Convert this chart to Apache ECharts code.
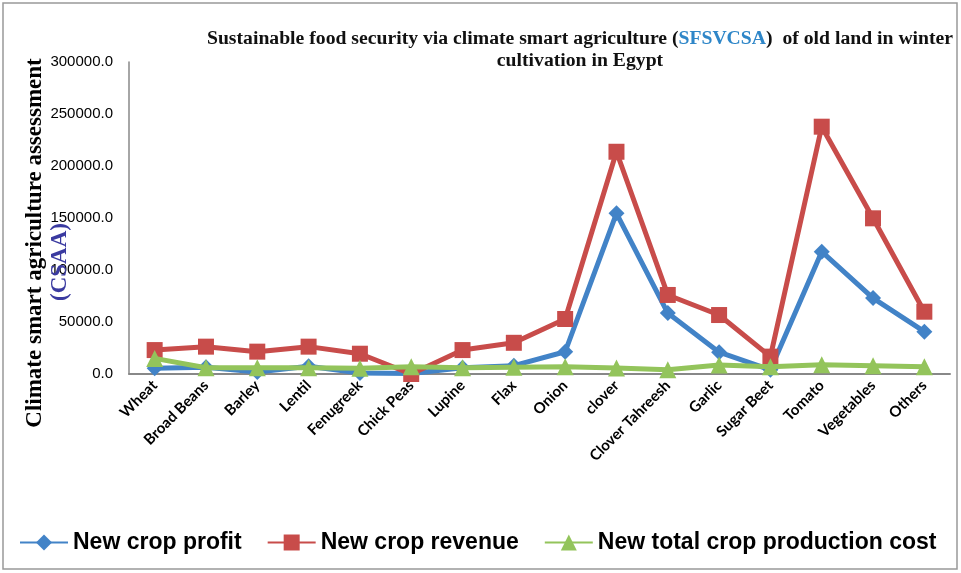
<!DOCTYPE html>
<html>
<head>
<meta charset="utf-8">
<script src="https://cdn.jsdelivr.net/npm/echarts@6/dist/echarts.min.js"></script>
<style>
  html, body { margin: 0; padding: 0; background: #fff; }
  #chart { width: 961px; height: 573px; }
</style>
</head>
<body>
<div id="chart"></div>
<script>
// categories on x axis
var crops = ['Wheat', 'Broad Beans', 'Barley', 'Lentil', 'Fenugreek', 'Chick Peas', 'Lupine', 'Flax',
  'Onion', 'clover', 'Clover Tahreesh', 'Garlic', 'Sugar Beet', 'Tomato', 'Vegetables', 'Others']

// values
var profit = [5500, 6500, 2000, 7500, 1000, 500, 6000, 8000,
  21400, 154500, 58600, 21000, 4000, 117600, 73000, 40700]
var revenue = [23000, 26300, 21500, 26300, 19500, 0, 23000, 30000,
  52900, 213700, 76000, 56700, 16700, 237800, 149700, 59900]
var cost = [15000, 6000, 6000, 6000, 5500, 7000, 6000, 6500,
  7000, 5800, 4000, 8700, 7000, 9000, 8000, 7000]

var yTicks = { min: 0, max: 300000, interval: 50000 }

var chart = echarts.init(document.getElementById('chart'))

var option = {
  animation: false,
  backgroundColor: '#fff',
  title: {
    text: 'Sustainable food security via climate smart agriculture ({b|SFSVCSA})  of old land in winter\ncultivation in Egypt',
    left: 575,
    top: 23,
    textAlign: 'center',
    textStyle: {
      fontFamily: 'Liberation Serif',
      fontWeight: 'bold',
      fontSize: 19.7,
      color: '#111',
      lineHeight: 22,
      rich: {
        b: { color: '#2e86c8', fontFamily: 'Liberation Serif', fontWeight: 'bold', fontSize: 19.7 }
      }
    }
  },
  legend: {
    bottom: 14,
    left: 14,
    itemWidth: 48,
    itemHeight: 20,
    itemGap: 25,
    textStyle: { fontFamily: 'Liberation Sans', fontWeight: 'bold', fontSize: 23, color: '#000' },
    data: ['New crop profit', 'New crop revenue', 'New total crop production cost']
  },
  grid: { left: 129, right: 11, top: 62, bottom: 199 },
  xAxis: {
    type: 'category',
    data: crops,
    boundaryGap: true,
    axisLine: { lineStyle: { color: '#888', width: 2 } },
    axisTick: { show: false },
    axisLabel: {
      interval: 0,
      rotate: 45,
      margin: 9,
      fontFamily: 'Lato',
      fontWeight: 'bold',
      fontSize: 15,
      color: '#000'
    }
  },
  yAxis: {
    type: 'value',
    min: yTicks.min,
    max: yTicks.max,
    interval: yTicks.interval,
    axisLine: { show: true, lineStyle: { color: '#888', width: 1.5 } },
    axisTick: { show: false },
    splitLine: { show: false },
    axisLabel: {
      margin: 16,
      fontFamily: 'Liberation Sans',
      fontSize: 15,
      color: '#000',
      formatter: function (v) { return v.toFixed(1) }
    }
  },
  graphic: [
    {
      type: 'rect',
      shape: { x: 3, y: 3, width: 954, height: 566 },
      style: { fill: 'none', stroke: '#999', lineWidth: 1.5 },
      silent: true
    },
    {
      type: 'text',
      x: 35,
      y: 243,
      rotation: Math.PI / 2,
      style: {
        text: 'Climate smart agriculture assessment',
        fontFamily: 'Liberation Serif',
        fontWeight: 'bold',
        fontSize: 23,
        fill: '#000',
        align: 'center',
        verticalAlign: 'middle'
      }
    },
    {
      type: 'text',
      x: 60,
      y: 262,
      rotation: Math.PI / 2,
      z: 10,
      style: {
        text: '(CSAA)',
        fontFamily: 'Liberation Serif',
        fontWeight: 'bold',
        fontSize: 23,
        fill: '#3a3aa0',
        align: 'center',
        verticalAlign: 'middle'
      }
    }
  ],
  series: [
    {
      name: 'New crop profit',
      type: 'line',
      data: profit,
      symbol: 'diamond',
      symbolSize: 16,
      color: '#4283c7',
      lineStyle: { width: 5 },
      z: 2
    },
    {
      name: 'New crop revenue',
      type: 'line',
      data: revenue,
      symbol: 'rect',
      symbolSize: 16,
      color: '#c84c4a',
      lineStyle: { width: 5 },
      z: 3
    },
    {
      name: 'New total crop production cost',
      type: 'line',
      data: cost,
      symbol: 'triangle',
      symbolSize: 17,
      color: '#93c45b',
      lineStyle: { width: 5 },
      z: 4
    }
  ]
}

chart.setOption(option)
</script>
</body>
</html>
